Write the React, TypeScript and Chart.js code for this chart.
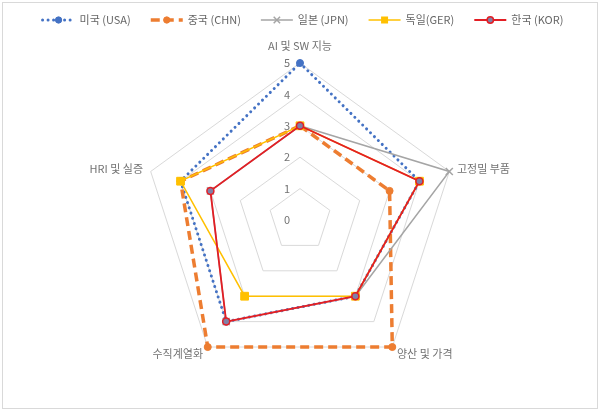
import React, { useEffect, useRef } from 'react';
import { Chart, registerables } from 'chart.js';

Chart.register(...registerables);

// Data
const categories = ['AI 및 SW 지능', '고정밀 부품', '양산 및 가격', '수직계열화', 'HRI 및 실증'];
const seriesNames = ['미국 (USA)', '중국 (CHN)', '일본 (JPN)', '독일(GER)', '한국 (KOR)'];
const usaValues = [5, 4, 3, 4, 4];
const chnValues = [3, 3, 5, 5, 4];
const jpnValues = [3, 5, 3, 4, 3];
const gerValues = [3, 4, 3, 3, 4];
const korValues = [3, 4, 3, 4, 3];
const tickValues = [0, 1, 2, 3, 4, 5];

const FONT = '"Noto Sans CJK KR", "Noto Sans", sans-serif';
const TEXT_COLOR = '#666666';

const drawMarker = (
  ctx: CanvasRenderingContext2D,
  style: string,
  x: number,
  y: number,
  r: number,
  fill: string,
  stroke: string,
  bw: number
) => {
  ctx.save();
  ctx.setLineDash([]);
  ctx.lineWidth = bw;
  ctx.fillStyle = fill;
  ctx.strokeStyle = stroke;
  ctx.beginPath();
  if (style === 'rect') {
    const s = r * Math.SQRT1_2;
    ctx.rect(x - s, y - s, 2 * s, 2 * s);
    ctx.fill();
  } else if (style === 'crossRot') {
    const s = r * Math.SQRT1_2;
    ctx.moveTo(x - s, y - s);
    ctx.lineTo(x + s, y + s);
    ctx.moveTo(x - s, y + s);
    ctx.lineTo(x + s, y - s);
    ctx.stroke();
  } else {
    ctx.arc(x, y, r, 0, Math.PI * 2);
    ctx.fill();
    ctx.stroke();
  }
  ctx.restore();
};

// Excel-style frame, axis labels and legend
const excelLook = {
  id: 'excelLook',
  beforeDraw(chart: any) {
    const { ctx, width, height } = chart;
    ctx.save();
    ctx.fillStyle = '#ffffff';
    ctx.fillRect(0, 0, width, height);
    ctx.strokeStyle = '#d9d9d9';
    ctx.lineWidth = 1;
    ctx.strokeRect(2.5, 2.5, width - 5, height - 5);
    ctx.restore();
  },
  beforeDatasetsDraw(chart: any) {
    const ctx = chart.ctx;
    const scale = chart.scales.r;
    ctx.save();
    ctx.font = `11px ${FONT}`;
    ctx.fillStyle = '#737373';
    ctx.textBaseline = 'middle';

    ctx.textAlign = 'right';
    tickValues.forEach((v) => {
      const p = scale.getPointPositionForValue(0, v);
      ctx.fillText(String(v), p.x - 10, p.y);
    });

    categories.forEach((c, i) => {
      const p = scale.getPointPosition(i, scale.drawingArea + (i === 0 ? 17 : 8));
      ctx.textAlign = i === 0 ? 'center' : p.x > scale.xCenter ? 'left' : 'right';
      ctx.fillText(c, p.x, p.y);
    });
    ctx.restore();
  },
  afterDraw(chart: any) {
    const ctx = chart.ctx;
    const datasets = chart.data.datasets;
    const lineLen = 32;
    const textGap = 5;
    const itemGap = 20;
    const y = 20;

    ctx.save();
    ctx.font = `11px ${FONT}`;
    const widths = datasets.map((d: any) => ctx.measureText(d.label).width);
    const total =
      widths.reduce((acc: number, w: number) => acc + w + lineLen + textGap, 0) +
      itemGap * (datasets.length - 1);
    let x = 303 - total / 2;

    datasets.forEach((d: any, i: number) => {
      ctx.save();
      ctx.strokeStyle = d.borderColor;
      ctx.lineWidth = d.borderWidth;
      ctx.lineCap = d.borderCapStyle || 'butt';
      ctx.setLineDash(d.borderDash || []);
      ctx.beginPath();
      ctx.moveTo(x, y);
      ctx.lineTo(x + lineLen, y);
      ctx.stroke();
      ctx.restore();
      drawMarker(
        ctx,
        d.pointStyle,
        x + lineLen / 2,
        y,
        d.pointRadius * 0.9,
        d.pointBackgroundColor,
        d.pointBorderColor,
        d.pointBorderWidth
      );
      ctx.fillStyle = TEXT_COLOR;
      ctx.textAlign = 'left';
      ctx.textBaseline = 'middle';
      ctx.fillText(d.label, x + lineLen + textGap, y);
      x += lineLen + textGap + widths[i] + itemGap;
    });
    ctx.restore();
  },
};

const App: React.FC = () => {
  const chartRef = useRef<HTMLCanvasElement>(null);
  const chartInstance = useRef<Chart | null>(null);

  useEffect(() => {
    document.body.style.margin = '0';
    if (!chartRef.current) return;
    const ctx = chartRef.current.getContext('2d');
    if (!ctx) return;

    chartInstance.current = new Chart(ctx, {
      type: 'radar',
      data: {
        labels: categories,
        datasets: [
          {
            label: seriesNames[0],
            data: usaValues,
            borderColor: '#4472C4',
            borderWidth: 3,
            borderDash: [0.01, 5.5],
            borderCapStyle: 'round',
            pointStyle: 'circle',
            pointRadius: 3.5,
            pointBackgroundColor: '#4472C4',
            pointBorderColor: '#4472C4',
            pointBorderWidth: 1,
            fill: false,
            order: 5,
          },
          {
            label: seriesNames[1],
            data: chnValues,
            borderColor: '#ED7D31',
            borderWidth: 3.5,
            borderDash: [9, 5],
            borderCapStyle: 'butt',
            pointStyle: 'circle',
            pointRadius: 3.5,
            pointBackgroundColor: '#ED7D31',
            pointBorderColor: '#ED7D31',
            pointBorderWidth: 1,
            fill: false,
            order: 4,
          },
          {
            label: seriesNames[2],
            data: jpnValues,
            borderColor: '#A5A5A5',
            borderWidth: 1.5,
            pointStyle: 'crossRot',
            pointRadius: 5,
            pointBackgroundColor: '#A5A5A5',
            pointBorderColor: '#A5A5A5',
            pointBorderWidth: 1.5,
            fill: false,
            order: 3,
          },
          {
            label: seriesNames[3],
            data: gerValues,
            borderColor: '#FFC000',
            borderWidth: 1.5,
            pointStyle: 'rect',
            pointRadius: 5.5,
            pointBackgroundColor: '#FFC000',
            pointBorderColor: '#FFC000',
            pointBorderWidth: 1,
            fill: false,
            order: 2,
          },
          {
            label: seriesNames[4],
            data: korValues,
            borderColor: '#E31E24',
            borderWidth: 1.8,
            pointStyle: 'circle',
            pointRadius: 3.5,
            pointBackgroundColor: '#8080A6',
            pointBorderColor: '#E31E24',
            pointBorderWidth: 1.5,
            fill: false,
            order: 1,
          },
        ],
      },
      options: {
        responsive: false,
        animation: false,
        events: [],
        layout: {
          padding: { top: 63, bottom: 34, left: 0, right: 0 },
        },
        elements: {
          line: { tension: 0 },
        },
        scales: {
          r: {
            min: 0,
            max: 5,
            ticks: { stepSize: 1, display: false },
            grid: { color: '#d9d9d9', lineWidth: 1 },
            angleLines: { display: false },
            pointLabels: { display: false },
          },
        },
        plugins: {
          legend: { display: false },
          tooltip: { enabled: false },
        },
      },
      plugins: [excelLook],
    });

    return () => {
      if (chartInstance.current) {
        chartInstance.current.destroy();
        chartInstance.current = null;
      }
    };
  }, []);

  return (
    <div style={{ width: 600, height: 411 }}>
      <canvas ref={chartRef} width={600} height={411}></canvas>
    </div>
  );
};

export default App;
